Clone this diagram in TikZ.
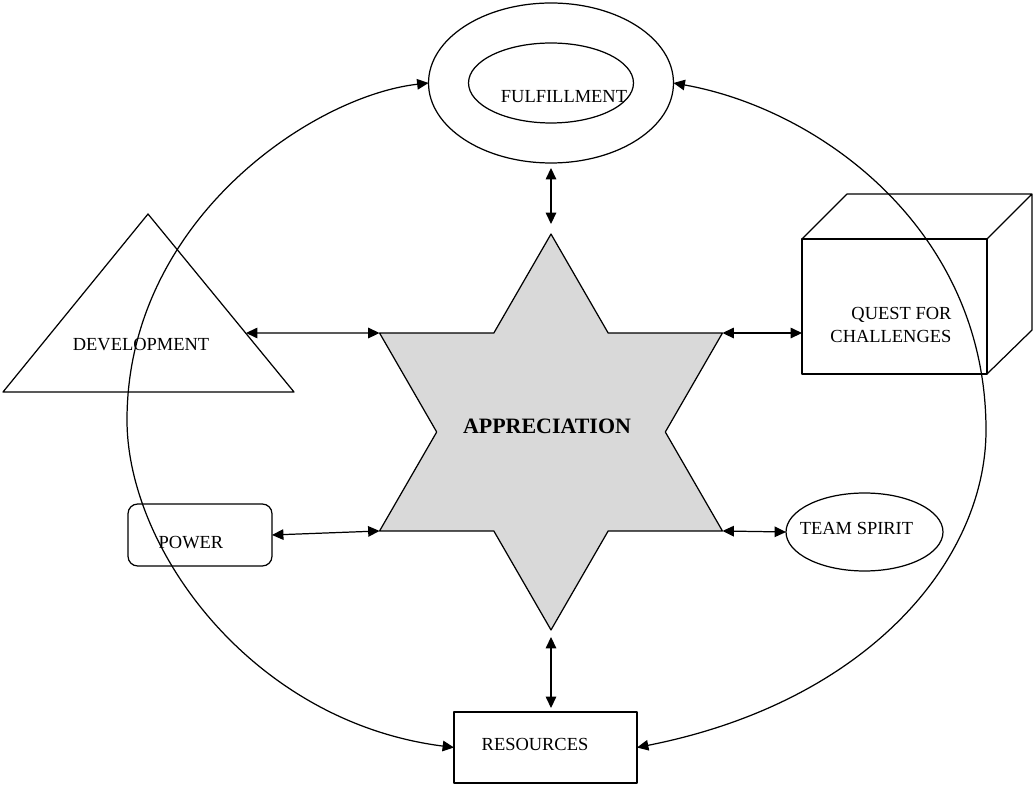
\documentclass[tikz,border=0pt]{standalone}
\usepackage{fontspec}
\setmainfont{Liberation Serif}
\usetikzlibrary{shapes.geometric,arrows.meta}
\definecolor{stargray}{RGB}{217,217,217}
\begin{document}
\begin{tikzpicture}[x=0.02cm,y=-0.02cm,>={Triangle[length=6.5pt,width=6pt]},line join=round,line width=0.7pt,
	font=\fontsize{10.5}{13.6}\selectfont,
	shp/.style={draw,inner sep=0pt,outer sep=0pt},
	lbl/.style={inner sep=0pt}]
	\useasboundingbox (0,0) rectangle (1034,786);
	% fulfillment
	\node[shp,ellipse,minimum width=4.9cm,minimum height=3.2cm] (ful) at (551,83) {};
	\node[shp,ellipse,minimum width=3.3cm,minimum height=1.6cm] (fulin) at (551,83) {};
	\node[lbl] (fultxt) at (564,97) {FULFILLMENT};
	% star in the middle
	\node[shp,star,star points=6,star point ratio=1.732,minimum size=7.92cm,fill=stargray] (app) at (551,432) {};
	\node[lbl,font=\fontsize{12.5}{15}\selectfont\bfseries] (apptxt) at (547,426) {APPRECIATION};
	% development
	\draw (148,214) -- (294,392) -- (3,392) -- cycle;
	\coordinate (devr) at (246,333);
	\node[lbl] (devtxt) at (141,345) {DEVELOPMENT};
	% quest for challenges
	\node[shp,minimum width=3.7cm,minimum height=2.7cm] (quest) at (894.5,306.5) {};
	\draw (quest.north west) -- ++(45,-45) -- ++(185,0) -- ++(0,136) -- (quest.south east) (quest.north east) -- ++(45,-45);
	\node[lbl,align=right,anchor=east] (questtxt) at (952,325) {QUEST FOR\\CHALLENGES};
	% power
	\node[shp,rounded corners=5.5pt,minimum width=2.88cm,minimum height=1.24cm] (power) at (200,535) {};
	\node[lbl] (powtxt) at (191,543) {POWER};
	% team spirit
	\node[shp,ellipse,minimum width=3.14cm,minimum height=1.56cm] (team) at (864.5,532) {};
	\node[lbl] (teamtxt) at (856.5,528) {TEAM SPIRIT};
	% resources
	\node[shp,minimum width=3.66cm,minimum height=1.42cm] (res) at (545.5,747.5) {};
	\node[lbl] (restxt) at (535,744) {RESOURCES};
	% arrows
	\draw[<->,shorten <=0.1cm,shorten >=0.2cm] (ful.south) -- (app.outer point 1);
	\draw[<->,shorten <=0.14cm,shorten >=0.08cm] (app.outer point 4) -- (app.outer point 4 |- res.north);
	\draw[<->] (devr) -- (app.outer point 2);
	\draw[<->] (app.outer point 6) -- (app.outer point 6 -| quest.west);
	\draw[<->] (power.east) -- (app.outer point 3);
	\draw[<->] (app.outer point 5) -- (team.west);
	\draw[<->] (ful.west) .. controls (313,96) and (127,220) .. (127,420) .. controls (127,550) and (253,722) .. (res.west);
	\draw[<->] (ful.east) .. controls (820,109) and (986,230) .. (986,430) .. controls (986,560) and (868,702) .. (res.east);
\end{tikzpicture}
\end{document}
